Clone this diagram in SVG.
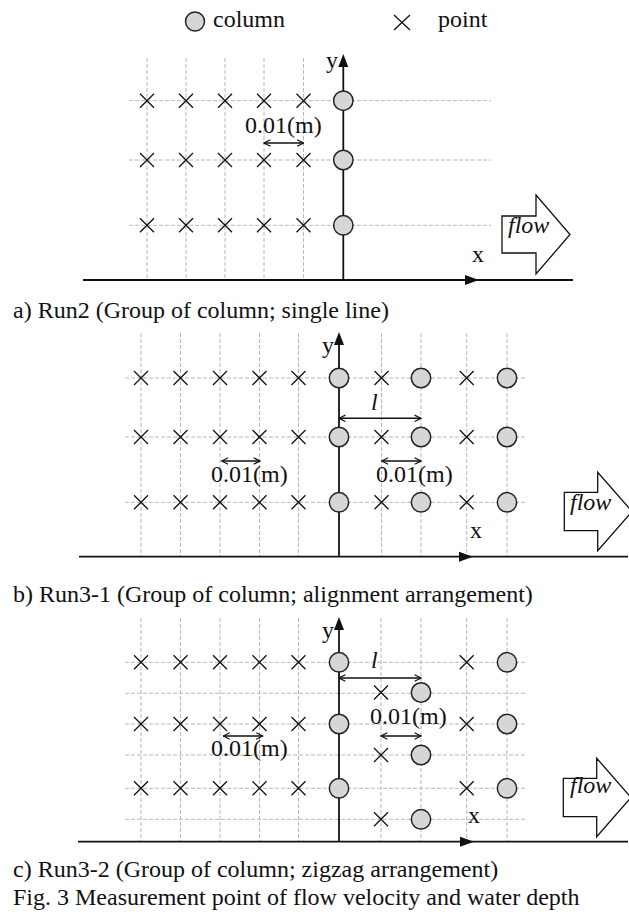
<svg xmlns="http://www.w3.org/2000/svg" width="629" height="917" viewBox="0 0 629 917">
<style>
text{font-family:"Liberation Serif","Times New Roman",serif;font-size:24px;fill:#111}
.it{font-style:italic}
.grid{stroke:#b8b8b8;stroke-width:1;stroke-dasharray:4 2;fill:none}
.axis{stroke:#111;stroke-width:1.8;fill:none}
.ah{fill:#111;stroke:none}
.col{fill:#d6d6d6;stroke:#222;stroke-width:1.5}
.pt{stroke:#111;stroke-width:1.3;fill:none}
.dim{stroke:#111;stroke-width:1.5;fill:none;marker-start:url(#v);marker-end:url(#v)}
.flow{fill:#fff;stroke:#111;stroke-width:1.3}
</style>
<defs>
<marker id="v" viewBox="0 0 10 10" refX="9" refY="5" markerWidth="8" markerHeight="8" markerUnits="userSpaceOnUse" orient="auto-start-reverse"><path d="M1,1 L9,5 L1,9" fill="none" stroke="#111" stroke-width="1.5"/></marker>
<path id="x" d="M-7,-7 L7,7 M-7,7 L7,-7" class="pt"/>
</defs>

<g id="legend">
<circle class="col" cx="195" cy="21.5" r="9.5"/>
<text x="213" y="27">column</text>
<path d="M394,15 L410,30 M394,30 L410,15" class="pt"/>
<text x="438" y="27">point</text>
</g>

<!-- Panel a -->
<g id="panel-a">
<g class="grid">
<path d="M147,58V280M186,58V280M225,58V280M264,58V280M303.5,58V280"/>
<path d="M129,100.7H491M129,160H491M129,225.3H491"/>
</g>
<g id="a-points">
<use href="#x" x="147" y="100.7"/><use href="#x" x="186" y="100.7"/><use href="#x" x="225" y="100.7"/><use href="#x" x="264" y="100.7"/><use href="#x" x="303.5" y="100.7"/>
<use href="#x" x="147" y="160"/><use href="#x" x="186" y="160"/><use href="#x" x="225" y="160"/><use href="#x" x="264" y="160"/><use href="#x" x="303.5" y="160"/>
<use href="#x" x="147" y="225.3"/><use href="#x" x="186" y="225.3"/><use href="#x" x="225" y="225.3"/><use href="#x" x="264" y="225.3"/><use href="#x" x="303.5" y="225.3"/>
</g>
<g id="a-axes">
<path class="axis" d="M343.3,280V64"/>
<polygon class="ah" points="343.3,54 338.3,67 348.3,67"/>
<path class="axis" d="M83,280H573"/>
<polygon class="ah" points="479,280 465,275 465,285"/>
<text x="326" y="68">y</text>
<text x="472" y="262">x</text>
</g>
<g id="a-columns">
<circle class="col" cx="343.3" cy="100.7" r="9.7"/><circle class="col" cx="343.3" cy="160" r="9.7"/><circle class="col" cx="343.3" cy="225.3" r="9.7"/>
</g>
<g id="a-dim">
<path class="dim" d="M264,143H303.5"/>
<text x="245" y="133">0.01(m)</text>
</g>
<g id="a-flow">
<polygon class="flow" points="502,216 536,216 536,195 570,234.5 536,274 536,253 502,253"/>
<text class="it" x="508" y="233">flow</text>
</g>
<text x="13" y="318">a) Run2 (Group of column; single line)</text>
</g>

<!-- Panel b -->
<g id="panel-b">
<g class="grid">
<path d="M141,333V556.7M180.5,333V556.7M220,333V556.7M259.5,333V556.7M298.5,333V556.7M381.5,333V556.7M421,333V556.7M466.7,333V556.7M507,333V556.7"/>
<path d="M125,378H526M125,437H526M125,502.3H526"/>
</g>
<g id="b-points">
<use href="#x" x="141" y="378"/><use href="#x" x="180.5" y="378"/><use href="#x" x="220" y="378"/><use href="#x" x="259.5" y="378"/><use href="#x" x="298.5" y="378"/><use href="#x" x="381.5" y="378"/><use href="#x" x="466.7" y="378"/>
<use href="#x" x="141" y="437"/><use href="#x" x="180.5" y="437"/><use href="#x" x="220" y="437"/><use href="#x" x="259.5" y="437"/><use href="#x" x="298.5" y="437"/><use href="#x" x="381.5" y="437"/><use href="#x" x="466.7" y="437"/>
<use href="#x" x="141" y="502.3"/><use href="#x" x="180.5" y="502.3"/><use href="#x" x="220" y="502.3"/><use href="#x" x="259.5" y="502.3"/><use href="#x" x="298.5" y="502.3"/><use href="#x" x="381.5" y="502.3"/><use href="#x" x="466.7" y="502.3"/>
</g>
<g id="b-axes">
<path class="axis" d="M339,556.7V342"/>
<polygon class="ah" points="339,332 334,345 344,345"/>
<path class="axis" d="M79,556.7H628"/>
<polygon class="ah" points="473,556.7 459,551.7 459,561.7"/>
<text x="322" y="353">y</text>
<text x="470" y="538">x</text>
</g>
<g id="b-columns">
<circle class="col" cx="339" cy="378" r="9.7"/><circle class="col" cx="421" cy="378" r="9.7"/><circle class="col" cx="507" cy="378" r="9.7"/>
<circle class="col" cx="339" cy="437" r="9.7"/><circle class="col" cx="421" cy="437" r="9.7"/><circle class="col" cx="507" cy="437" r="9.7"/>
<circle class="col" cx="339" cy="502.3" r="9.7"/><circle class="col" cx="421" cy="502.3" r="9.7"/><circle class="col" cx="507" cy="502.3" r="9.7"/>
</g>
<g id="b-dims">
<path class="dim" d="M339,418.3H421"/>
<text class="it" x="371" y="410">l</text>
<path class="dim" d="M221.7,461H260"/>
<text x="211" y="482">0.01(m)</text>
<path class="dim" d="M381.7,461H421"/>
<text x="376" y="482">0.01(m)</text>
</g>
<g id="b-flow">
<polygon class="flow" points="564.3,492.3 597.7,492.3 597.7,472.3 632,511.5 597.7,550.7 597.7,530.7 564.3,530.7"/>
<text class="it" x="570" y="510">flow</text>
</g>
<text x="13" y="602">b) Run3-1 (Group of column; alignment arrangement)</text>
</g>

<!-- Panel c -->
<g id="panel-c">
<g class="grid">
<path d="M141,618V841.7M180.5,618V841.7M220,618V841.7M259.5,618V841.7M298.5,618V841.7M381,618V841.7M421,618V841.7M466.7,618V841.7M507,618V841.7"/>
<path d="M125,662.3H526.7M125,693.3H526.7M125,724H526.7M125,755H526.7M125,788.3H526.7M125,819.3H526.7"/>
</g>
<g id="c-points">
<use href="#x" x="141" y="662.3"/><use href="#x" x="180.5" y="662.3"/><use href="#x" x="220" y="662.3"/><use href="#x" x="259.5" y="662.3"/><use href="#x" x="298.5" y="662.3"/><use href="#x" x="466.7" y="662.3"/>
<use href="#x" x="141" y="724"/><use href="#x" x="180.5" y="724"/><use href="#x" x="220" y="724"/><use href="#x" x="259.5" y="724"/><use href="#x" x="298.5" y="724"/><use href="#x" x="466.7" y="724"/>
<use href="#x" x="141" y="788.3"/><use href="#x" x="180.5" y="788.3"/><use href="#x" x="220" y="788.3"/><use href="#x" x="259.5" y="788.3"/><use href="#x" x="298.5" y="788.3"/><use href="#x" x="466.7" y="788.3"/>
<use href="#x" x="381" y="692.5"/><use href="#x" x="381" y="755"/><use href="#x" x="381" y="819.3"/>
</g>
<g id="c-axes">
<path class="axis" d="M339,841.7V627"/>
<polygon class="ah" points="339,617 334,630 344,630"/>
<path class="axis" d="M78,841.7H628"/>
<polygon class="ah" points="474,841.7 460,836.7 460,846.7"/>
<text x="322" y="638">y</text>
<text x="468" y="823">x</text>
</g>
<g id="c-columns">
<circle class="col" cx="339" cy="662.3" r="9.7"/><circle class="col" cx="339" cy="724" r="9.7"/><circle class="col" cx="339" cy="788.3" r="9.7"/>
<circle class="col" cx="421" cy="692.5" r="9.7"/><circle class="col" cx="421" cy="755" r="9.7"/><circle class="col" cx="421" cy="819.3" r="9.7"/>
<circle class="col" cx="507" cy="662.3" r="9.7"/><circle class="col" cx="507" cy="724" r="9.7"/><circle class="col" cx="507" cy="788.3" r="9.7"/>
</g>
<g id="c-dims">
<path class="dim" d="M339,678H421"/>
<text class="it" x="371" y="668">l</text>
<path class="dim" d="M381,736H421"/>
<text x="370" y="723.5">0.01(m)</text>
<path class="dim" d="M223.3,736H262.7"/>
<text x="211" y="756">0.01(m)</text>
</g>
<g id="c-flow">
<polygon class="flow" points="563.3,778.3 596.7,778.3 596.7,758.3 631,797.5 596.7,836.7 596.7,816.7 563.3,816.7"/>
<text class="it" x="570" y="793">flow</text>
</g>
<text x="13" y="877">c) Run3-2 (Group of column; zigzag arrangement)</text>
<text x="13" y="905">Fig. 3 Measurement point of flow velocity and water depth</text>
</g>
</svg>
